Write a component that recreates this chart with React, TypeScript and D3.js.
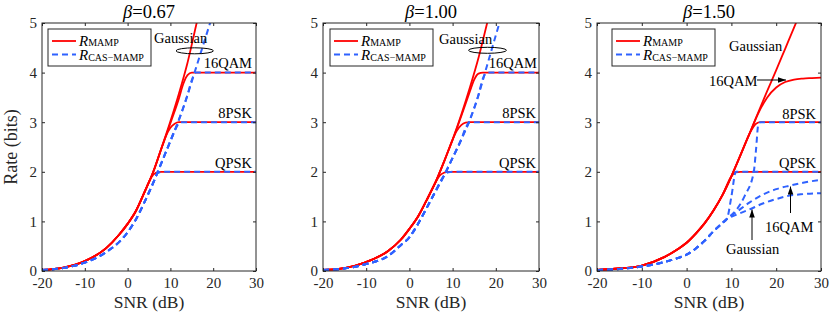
import React, { useEffect, useRef } from "react";
import * as d3 from "d3";

type Pt = [number, number];

// ejes
const snrTicks = [-20, -10, 0, 10, 20, 30];
const rateTicks = [0, 1, 2, 3, 4, 5];
const betas = ["0.67", "1.00", "1.50"];

// ---- beta = 0.67 ----
const mampLow067: Pt[] = [[-20, 0.02], [-15, 0.07], [-10, 0.2], [-5, 0.46], [-2, 0.73], [0, 0.95], [2, 1.22], [4, 1.6]];
const mampGauss067: Pt[] = [...mampLow067, [6, 2.0], [8, 2.5], [10, 3.02], [12, 3.58], [14, 4.2], [16, 4.95], [18, 5.7]];
const mampQpsk067: Pt[] = [...mampLow067, [5, 1.8], [6, 1.94], [7, 1.995], [8, 2], [30, 2]];
const mamp8psk067: Pt[] = [...mampLow067, [6, 2.0], [8, 2.5], [9, 2.73], [10, 2.89], [11, 2.97], [12, 3], [30, 3]];
const mamp16qam067: Pt[] = [...mampLow067, [6, 2.0], [8, 2.49], [10, 2.98], [12, 3.48], [13, 3.77], [14, 3.95], [15, 4], [30, 4]];

const casLow067: Pt[] = [[-20, 0.02], [-15, 0.06], [-10, 0.17], [-5, 0.38], [0, 0.78], [2, 1.05], [4, 1.4], [6, 1.78]];
const casGauss067: Pt[] = [...casLow067, [8, 2.2], [10, 2.62], [12, 3.05], [14, 3.55], [16, 4.1], [18, 4.65], [20, 5.2]];
const casQpsk067: Pt[] = [...casLow067, [7, 1.97], [8, 2], [30, 2]];
const cas8psk067: Pt[] = [...casLow067, [8, 2.2], [10, 2.62], [11, 2.83], [12, 2.98], [12.5, 3], [30, 3]];
const cas16qam067: Pt[] = [...casLow067, [8, 2.2], [10, 2.62], [12, 3.05], [14, 3.55], [15, 3.85], [16, 4], [30, 4]];

// ---- beta = 1.00 ----
const mampLow100: Pt[] = [[-20, 0.02], [-15, 0.06], [-10, 0.18], [-5, 0.4], [-2, 0.63], [0, 0.85], [2, 1.1], [4, 1.43], [6, 1.78]];
const mampGauss100: Pt[] = [...mampLow100, [8, 2.2], [10, 2.65], [12, 3.15], [14, 3.7], [16, 4.3], [18, 5.0], [20, 5.7]];
const mampQpsk100: Pt[] = [...mampLow100, [7, 1.92], [8, 1.98], [9, 2], [30, 2]];
const mamp8psk100: Pt[] = [...mampLow100, [8, 2.2], [10, 2.65], [11, 2.83], [12, 2.94], [13, 2.99], [14, 3], [30, 3]];
const mamp16qam100: Pt[] = [...mampLow100, [8, 2.2], [10, 2.64], [12, 3.12], [14, 3.62], [15, 3.86], [16, 3.98], [17, 4], [30, 4]];

const casLow100: Pt[] = [[-20, 0.02], [-15, 0.05], [-10, 0.14], [-5, 0.3], [-2, 0.52], [0, 0.68], [2, 0.95], [4, 1.27], [6, 1.6], [8, 1.92]];
const casGauss100: Pt[] = [...casLow100, [10, 2.28], [12, 2.65], [14, 3.05], [16, 3.55], [18, 4.15], [20, 4.75], [22, 5.35]];
const casQpsk100: Pt[] = [...casLow100, [9, 1.99], [10, 2], [30, 2]];
const cas8psk100: Pt[] = [...casLow100, [10, 2.28], [12, 2.65], [13, 2.88], [14, 3], [30, 3]];
const cas16qam100: Pt[] = [...casLow100, [10, 2.28], [12, 2.65], [14, 3.05], [16, 3.55], [17, 3.88], [18, 4], [30, 4]];

// ---- beta = 1.50 ----
const mampLow150: Pt[] = [[-20, 0.02], [-15, 0.05], [-10, 0.11], [-5, 0.28], [-2, 0.44], [0, 0.57], [2, 0.75], [4, 0.96], [6, 1.22], [8, 1.53]];
const mampGauss150: Pt[] = [...mampLow150, [10, 1.91], [12, 2.33], [14, 2.76], [16, 3.2], [18, 3.63], [20, 4.05], [22, 4.48], [24, 4.91], [26, 5.35]];
const mampQpsk150: Pt[] = [...mampLow150, [10, 1.91], [11, 1.99], [12, 2], [30, 2]];
const mamp8psk150: Pt[] = [...mampLow150, [10, 1.91], [12, 2.33], [14, 2.76], [15.5, 2.97], [16.5, 3], [30, 3]];
const mamp16qam150: Pt[] = [...mampLow150, [10, 1.91], [12, 2.33], [14, 2.76], [16, 3.18], [18, 3.5], [20, 3.7], [22, 3.81], [24, 3.86], [26, 3.88], [28, 3.89], [30, 3.9]];

const casLow150: Pt[] = [[-20, 0.02], [-15, 0.04], [-10, 0.09], [-5, 0.18], [-2, 0.26], [0, 0.33], [2, 0.45], [4, 0.61], [6, 0.8], [8, 0.97], [9, 1.05]];
const casGauss150: Pt[] = [...casLow150, [11, 1.13], [14, 1.24], [17, 1.36], [20, 1.45], [23, 1.52], [26, 1.55], [30, 1.57]];
const casQpsk150: Pt[] = [...casLow150, [10, 1.5], [11, 2], [30, 2]];
const cas8psk150: Pt[] = [...casLow150, [11, 1.22], [13, 1.52], [15, 2.0], [15.5, 2.45], [16, 2.95], [16.5, 3], [30, 3]];
const cas16qam150: Pt[] = [...casLow150, [11, 1.18], [14, 1.38], [17, 1.54], [20, 1.65], [23, 1.72], [26, 1.78], [30, 1.84]];

const mampSeries = [
  [mampGauss067, mampQpsk067, mamp8psk067, mamp16qam067],
  [mampGauss100, mampQpsk100, mamp8psk100, mamp16qam100],
  [mampGauss150, mampQpsk150, mamp8psk150, mamp16qam150],
];
const casSeries = [
  [casGauss067, casQpsk067, cas8psk067, cas16qam067],
  [casGauss100, casQpsk100, cas8psk100, cas16qam100],
  [casGauss150, casQpsk150, cas8psk150, cas16qam150],
];

// layout (pixeles)
const W = 830, H = 317;
const top = 23, bottom = 271;
const panelX: [number, number][] = [[42, 256], [323, 539], [597, 821]];
const legendX = [48, 330, 612];
const FONT = "'Liberation Serif', 'Times New Roman', serif";
const RED = "#ff0000";
const BLUE = "#2f62ff";
const AX = "#262626";

// anotaciones: [texto, x, y, anchor]
const labels: [string, number, number, string][][] = [
  [["Gaussian", 154, 43, "start"], ["16QAM", 252, 68, "end"], ["8PSK", 252, 118, "end"], ["QPSK", 252, 168, "end"]],
  [["Gaussian", 439, 44, "start"], ["16QAM", 537, 68, "end"], ["8PSK", 536, 118, "end"], ["QPSK", 536, 168, "end"]],
  [["Gaussian", 729, 51, "start"], ["16QAM", 709, 86, "start"], ["8PSK", 816, 119, "end"], ["QPSK", 816, 168, "end"],
   ["16QAM", 765, 231.5, "start"], ["Gaussian", 726, 254, "start"]],
];
const ellipses = [[194.7, 50.8, 18.7, 3], [487.5, 50.3, 19, 3]];
const arrows = [[757, 80, 786, 80], [790.5, 213, 790.5, 186.5], [752, 240, 752, 209.5]];

const Chart = () => {
  const ref = useRef<SVGSVGElement>(null);

  useEffect(() => {
    const svg = d3.select(ref.current);
    svg.selectAll("*").remove();
    svg.attr("font-family", FONT);

    const defs = svg.append("defs");
    defs.append("marker")
      .attr("id", "ah")
      .attr("markerUnits", "userSpaceOnUse")
      .attr("viewBox", "0 -3 8 6")
      .attr("refX", 8).attr("refY", 0)
      .attr("markerWidth", 8).attr("markerHeight", 6)
      .attr("orient", "auto")
      .append("path").attr("d", "M0,-2.8L8,0L0,2.8Z").attr("fill", "#000");

    panelX.forEach(([x0, x1], i) => {
      const x = d3.scaleLinear().domain([-20, 30]).range([x0, x1]);
      const y = d3.scaleLinear().domain([0, 5]).range([bottom, top]);

      defs.append("clipPath").attr("id", `clip${i}`)
        .append("rect").attr("x", x0).attr("y", top).attr("width", x1 - x0).attr("height", bottom - top);

      const line = d3.line<Pt>().x(d => x(d[0])).y(d => y(d[1])).curve(d3.curveMonotoneX);

      const g = svg.append("g");
      const plot = g.append("g").attr("clip-path", `url(#clip${i})`).attr("fill", "none");

      plot.selectAll("path.mamp")
        .data(mampSeries[i])
        .join("path")
        .attr("class", "mamp")
        .attr("d", line)
        .attr("stroke", RED)
        .attr("stroke-width", 1.8);

      plot.selectAll("path.cas")
        .data(casSeries[i])
        .join("path")
        .attr("class", "cas")
        .attr("d", line)
        .attr("stroke", BLUE)
        .attr("stroke-width", 2)
        .attr("stroke-dasharray", "6,4");

      // ejes con ticks hacia dentro en los 4 lados
      const tk = (sel: any) => sel.call((s: any) => s.select(".domain").remove())
        .call((s: any) => s.selectAll("line").attr("stroke", AX))
        .call((s: any) => s.selectAll("text").attr("fill", AX).attr("font-size", 15).attr("font-family", FONT));

      g.append("g").attr("transform", `translate(0,${bottom})`)
        .call(d3.axisBottom(x).tickValues(snrTicks).tickSize(-3).tickPadding(6).tickFormat(d => String(d)))
        .call(tk);
      g.append("g").attr("transform", `translate(0,${top})`)
        .call(d3.axisTop(x).tickValues(snrTicks).tickSize(-3).tickFormat(() => ""))
        .call(tk);
      g.append("g").attr("transform", `translate(${x0},0)`)
        .call(d3.axisLeft(y).tickValues(rateTicks).tickSize(-3).tickPadding(5).tickFormat(d => String(d)))
        .call(tk);
      g.append("g").attr("transform", `translate(${x1},0)`)
        .call(d3.axisRight(y).tickValues(rateTicks).tickSize(-3).tickFormat(() => ""))
        .call(tk);

      g.append("rect")
        .attr("x", x0).attr("y", top).attr("width", x1 - x0).attr("height", bottom - top)
        .attr("fill", "none").attr("stroke", AX).attr("stroke-width", 1);

      // titulo
      const t = g.append("text")
        .attr("x", (x0 + x1) / 2).attr("y", 18)
        .attr("text-anchor", "middle").attr("font-size", 18.5).attr("fill", "#000");
      t.append("tspan").attr("font-style", "italic").text("β");
      t.append("tspan").text(`=${betas[i]}`);

      g.append("text")
        .attr("x", (x0 + x1) / 2).attr("y", 307.5)
        .attr("text-anchor", "middle").attr("font-size", 17.5).attr("fill", AX)
        .text("SNR (dB)");

      // leyenda
      const lx = legendX[i];
      const lg = g.append("g");
      lg.append("rect").attr("x", lx).attr("y", 29).attr("width", 103).attr("height", 37)
        .attr("fill", "#fff").attr("stroke", AX).attr("stroke-width", 1);
      lg.append("line").attr("x1", lx + 4).attr("x2", lx + 28).attr("y1", 41).attr("y2", 41)
        .attr("stroke", RED).attr("stroke-width", 1.8);
      lg.append("line").attr("x1", lx + 4).attr("x2", lx + 28).attr("y1", 54.5).attr("y2", 54.5)
        .attr("stroke", BLUE).attr("stroke-width", 2).attr("stroke-dasharray", "6,4");
      const l1 = lg.append("text").attr("x", lx + 31).attr("y", 45.5).attr("font-size", 15);
      l1.append("tspan").attr("font-style", "italic").text("R");
      l1.append("tspan").attr("font-size", 10).attr("dy", 0.8).text("MAMP");
      const l2 = lg.append("text").attr("x", lx + 31).attr("y", 60).attr("font-size", 15);
      l2.append("tspan").attr("font-style", "italic").text("R");
      l2.append("tspan").attr("font-size", 10).attr("dy", 1.2).text("CAS\u2212MAMP");

      // anotaciones
      labels[i].forEach(([txt, tx, ty, anc]) => {
        g.append("text").attr("x", tx).attr("y", ty).attr("text-anchor", anc)
          .attr("font-size", 14.5).attr("fill", "#000").text(txt);
      });
    });

    ellipses.forEach(([cx, cy, rx, ry]) => {
      svg.append("ellipse").attr("cx", cx).attr("cy", cy).attr("rx", rx).attr("ry", ry)
        .attr("fill", "none").attr("stroke", "#000").attr("stroke-width", 1);
    });
    arrows.forEach(([ax1, ay1, ax2, ay2]) => {
      svg.append("line").attr("x1", ax1).attr("y1", ay1).attr("x2", ax2).attr("y2", ay2)
        .attr("stroke", "#000").attr("stroke-width", 1).attr("marker-end", "url(#ah)");
    });

    // eje y solo en el primero
    svg.append("text")
      .attr("transform", "translate(17,147) rotate(-90)")
      .attr("text-anchor", "middle").attr("font-size", 18).attr("fill", AX)
      .text("Rate (bits)");
  }, []);

  return <svg ref={ref} width={W} height={H} style={{ position: "absolute", left: 0, top: 0, background: "#fff" }} />;
};

export default function App() {
  return <Chart />;
}
